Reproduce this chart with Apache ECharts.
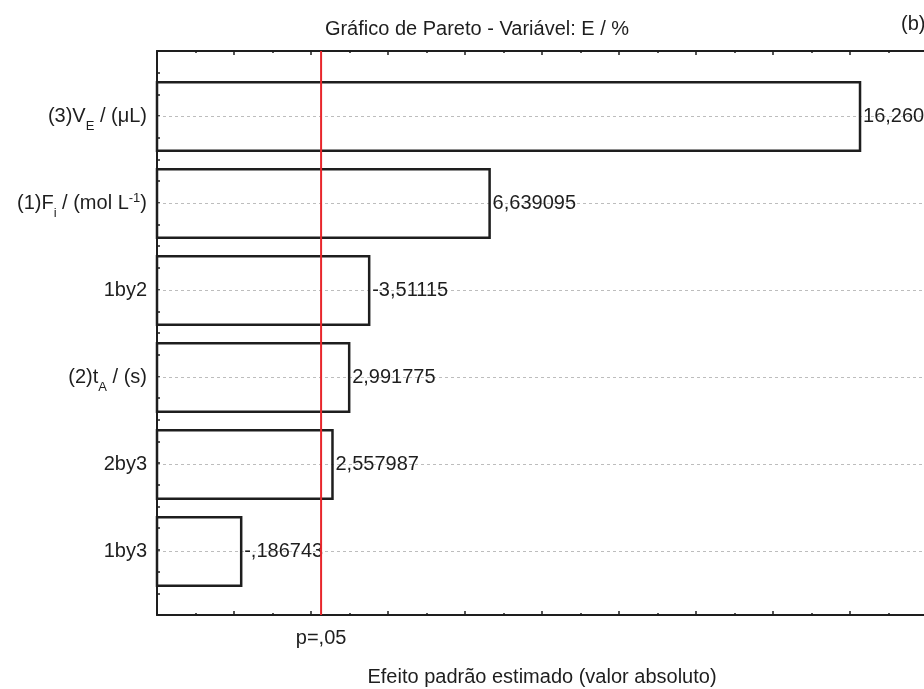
<!DOCTYPE html>
<html><head><meta charset="utf-8">
<script src="https://cdn.jsdelivr.net/npm/echarts@6/dist/echarts.min.js"></script>
<style>html,body{margin:0;padding:0;background:#fff}#c{width:924px;height:689px}</style>
</head><body><div id="c"></div>
<script>
// ---- data ----
const categories = ['(3)VE / (μL)', '(1)Fi / (mol L-1)', '1by2', '(2)tA / (s)', '2by3', '1by3'];
const categoryRich = [
  '{t|(3)V}{sub|E}{t| / (μL)}',
  '{t|(1)F}{sub|i}{t| / (mol L}{sup|-1}{t|)}',
  '{t|1by2}',
  '{t|(2)t}{sub|A}{t| / (s)}',
  '{t|2by3}',
  '{t|1by3}'
];
const effects = [16.26042, 6.639095, -3.51115, 2.991775, 2.557987, -0.186743];
const pCritical = 2.262;
const pLabel = 'p=,05';
const xMin = -2, xMax = 18, xInterval = 2;
const titleText = 'Gráfico de Pareto - Variável: E / %';
const panelTag = '(b)';
const xName = 'Efeito padrão estimado (valor absoluto)';

const FONT = 'Liberation Sans';
const INK = '#1e1e1e';

function fmt(e) {
  let s = Math.abs(e).toPrecision(7);
  if (s.indexOf('.') >= 0) s = s.replace(/0+$/, '').replace(/\.$/, '');
  if (s.startsWith('0.')) s = s.slice(1);
  s = s.replace('.', ',');
  return (e < 0 ? '-' : '') + s;
}

const barData = effects.map((e, i) => [Math.abs(e), i, e]);

const chart = echarts.init(document.getElementById('c'), null, {renderer: 'canvas'});
const frameAxisCommon = {
  min: xMin, max: xMax, interval: xInterval,
  axisLine: {show: true, onZero: false, lineStyle: {color: INK, width: 2}},
  axisTick: {show: true, inside: true, length: 4, lineStyle: {color: INK, width: 1.5}},
  minorTick: {show: true, splitNumber: 2, length: 2, lineStyle: {color: INK, width: 1.5}},
  axisLabel: {show: false},
  splitLine: {show: false}, minorSplitLine: {show: false}
};
chart.setOption({
  animation: false,
  backgroundColor: '#fff',
  title: [
    {text: titleText, left: 472, top: 14, textAlign: 'center',
     textStyle: {fontFamily: FONT, fontSize: 20, fontWeight: 'normal', color: INK}},
    {text: panelTag, left: 896, top: 9,
     textStyle: {fontFamily: FONT, fontSize: 20, fontWeight: 'normal', color: INK}}
  ],
  grid: [
    {left: 157, right: -3, top: 51, bottom: 74, containLabel: false, outerBoundsMode: 'none'},
    {left: 157, right: -3, top: 73, bottom: 94, containLabel: false, outerBoundsMode: 'none'}
  ],
  xAxis: [
    Object.assign({type: 'value', gridIndex: 0, position: 'bottom',
      name: xName, nameLocation: 'middle', nameGap: 52,
      nameTextStyle: {fontFamily: FONT, fontSize: 20, color: INK}}, frameAxisCommon),
    Object.assign({type: 'value', gridIndex: 0, position: 'top'}, frameAxisCommon),
    {type: 'value', gridIndex: 1, min: xMin, max: xMax, show: false}
  ],
  yAxis: [
    {type: 'value', gridIndex: 0, min: 0, max: 26, interval: 1, position: 'left',
     axisLine: {show: true, onZero: false, lineStyle: {color: INK, width: 2}},
     axisTick: {show: true, inside: true, length: 3, lineStyle: {color: INK, width: 1.5}},
     axisLabel: {show: false}, splitLine: {show: false}},
    {type: 'category', gridIndex: 1, data: categories, inverse: true, position: 'left',
     axisLine: {show: false, onZero: false}, axisTick: {show: false}, splitLine: {show: false},
     axisLabel: {
       margin: 10,
       formatter: (v, i) => categoryRich[i],
       rich: {
         t: {fontFamily: FONT, fontSize: 20, color: INK, lineHeight: 24},
         sub: {fontFamily: FONT, fontSize: 13, color: INK, lineHeight: 24, verticalAlign: 'bottom', padding: [0,0,-4,0]},
         sup: {fontFamily: FONT, fontSize: 13, color: INK, lineHeight: 24, verticalAlign: 'top'}
       }
     }}
  ],
  series: [
    {
      type: 'custom', xAxisIndex: 2, yAxisIndex: 1, data: barData,
      encode: {x: 0, y: 1}, z: 2,
      renderItem: function (params, api) {
        const ci = api.value(1);
        const v = api.value(0);
        const e = api.value(2);
        const s = api.coord([xMin, ci]);
        const t = api.coord([v, ci]);
        const band = api.size([0, 1])[1];
        const h = band * 0.785;
        const cs = params.coordSys;
        return {
          type: 'group',
          children: [
            {type: 'line', shape: {x1: cs.x, y1: s[1], x2: cs.x + cs.width, y2: s[1]},
             style: {stroke: '#bdbdbd', lineWidth: 1, lineDash: [3, 3]}, z2: 0},
            {type: 'rect', shape: {x: s[0], y: s[1] - h / 2, width: t[0] - s[0], height: h},
             style: {fill: 'none', stroke: INK, lineWidth: 2.5}, z2: 1},
            {type: 'text', x: t[0] + 3, y: s[1],
             style: {text: fmt(e), font: '20px ' + FONT, fill: INK, verticalAlign: 'middle', align: 'left'}, z2: 2}
          ]
        };
      }
    },
    {
      type: 'custom', xAxisIndex: 0, yAxisIndex: 0, data: [[pCritical, 0]],
      encode: {x: 0, y: 1}, z: 5,
      renderItem: function (params, api) {
        const b = api.coord([api.value(0), 0]);
        const tp = api.coord([api.value(0), 26]);
        return {
          type: 'group',
          children: [
            {type: 'line', shape: {x1: b[0], y1: b[1], x2: tp[0], y2: tp[1]},
             style: {stroke: '#e8262b', lineWidth: 2}},
            {type: 'text', x: b[0], y: b[1] + 23,
             style: {text: pLabel, font: '20px ' + FONT, fill: INK, verticalAlign: 'middle', align: 'center'}}
          ]
        };
      }
    }
  ]
});
</script></body></html>
